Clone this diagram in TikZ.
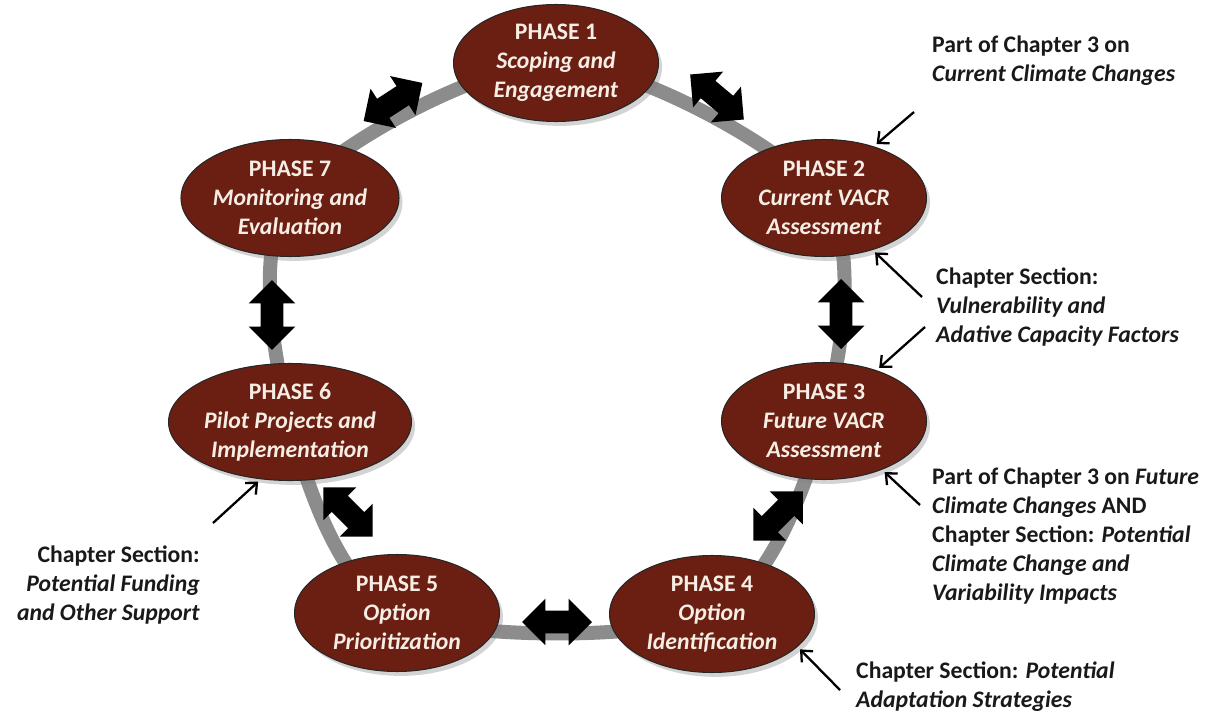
\documentclass[tikz,border=0pt]{standalone}
\usepackage{fontspec}
\setmainfont{Carlito}
\usetikzlibrary{shapes.geometric,shapes.arrows,shadows,arrows.meta,backgrounds}

\definecolor{phasered}{RGB}{107,30,18}
\definecolor{phasetext}{RGB}{246,238,228}
\definecolor{ringgray}{RGB}{140,140,140}
\definecolor{notetext}{RGB}{25,25,25}

\tikzset{
 phase/.style={ellipse,draw=black!85,line width=0.6pt,fill=phasered,text=phasetext,
  minimum width=4.1cm,minimum height=2.34cm,inner sep=0pt,align=center,
  font=\bfseries\fontsize{13.5}{16.5}\selectfont,
  drop shadow={opacity=0.35,shadow xshift=2pt,shadow yshift=-2.5pt}},
 dblarrow/.style={double arrow,fill=black,draw=none,inner xsep=0pt,inner ysep=0.22cm,
  minimum height=1.4cm,double arrow head extend=0.24cm},
 note/.style={align=left,text=notetext,font=\bfseries\fontsize{13.5}{16.5}\selectfont},
 pointer/.style={-{Straight Barb[length=5pt,width=9pt]},line width=1.3pt,shorten >=2pt}
}

\begin{document}
\begin{tikzpicture}[x=0.02cm,y=-0.02cm]
 \useasboundingbox (0,0) rectangle (1217,716);

 \node[phase] (p1) at (556,63) {PHASE 1\\ \textit{Scoping and}\\ \textit{Engagement}};
 \node[phase] (p2) at (824,198) {PHASE 2\\ \textit{Current VACR}\\ \textit{Assessment}};
 \node[phase] (p3) at (824,421) {PHASE 3\\ \textit{Future VACR}\\ \textit{Assessment}};
 \node[phase] (p4) at (712,614) {PHASE 4\\ \textit{Option}\\ \textit{Identification}};
 \node[phase] (p5) at (397,613) {PHASE 5\\ \textit{Option}\\ \textit{Prioritization}};
 \node[phase] (p6) at (290,422) {PHASE 6\\ \textit{Pilot Projects and}\\ \textit{Implementation}};
 \node[phase] (p7) at (290,198) {PHASE 7\\ \textit{Monitoring and}\\ \textit{Evaluation}};

 \begin{scope}[on background layer]
  \draw[ringgray,line width=0.28cm] plot[smooth cycle]
   coordinates {(p1) (p2) (p3) (p4) (p5) (p6) (p7)};
 \end{scope}

 \node[dblarrow,rotate=33] (a71) at (393,102) {};
 \node[dblarrow,rotate=-40] (a12) at (717,97) {};
 \node[dblarrow,rotate=90] (a23) at (841,314) {};
 \node[dblarrow,rotate=45] (a34) at (778,516) {};
 \node[dblarrow] (a45) at (557,622) {};
 \node[dblarrow,rotate=-45] (a56) at (348,512) {};
 \node[dblarrow,rotate=90] (a67) at (272,315) {};

 \node[note,anchor=north west] (n1) at (926,30)
  {Part of Chapter 3 on\\ \textit{Current Climate Changes}};
 \node[note,anchor=north west] (n2) at (930,262)
  {Chapter Section:\\ \textit{Vulnerability and}\\ \textit{Adative Capacity Factors}};
 \node[note,anchor=north west] (n3) at (926,462)
  {Part of Chapter 3 on \textit{Future}\\ \textit{Climate Changes} AND\\
   Chapter Section: \textit{Potential}\\ \textit{Climate Change and}\\ \textit{Variability Impacts}};
 \node[note,anchor=north east,align=right] (n4) at (206,540)
  {Chapter Section:\\ \textit{Potential Funding}\\ \textit{and Other Support}};
 \node[note,anchor=north west] (n5) at (850,656)
  {Chapter Section: \textit{Potential}\\ \textit{Adaptation Strategies}};

 \coordinate (t1) at (914,112);
 \coordinate (t2) at (922,297);
 \coordinate (t3) at (925,327);
 \coordinate (t4) at (920,505);
 \coordinate (t5) at (840,690);
 \coordinate (t6) at (213,523);
 \draw[pointer] (t1) -- (p2.46);
 \draw[pointer] (t2) -- (p2.-47);
 \draw[pointer] (t3) -- (p3.44);
 \draw[pointer] (t4) -- (p3.-40);
 \draw[pointer] (t5) -- (p4.-21);
 \draw[pointer] (t6) -- (p6.-117);
\end{tikzpicture}
\end{document}
